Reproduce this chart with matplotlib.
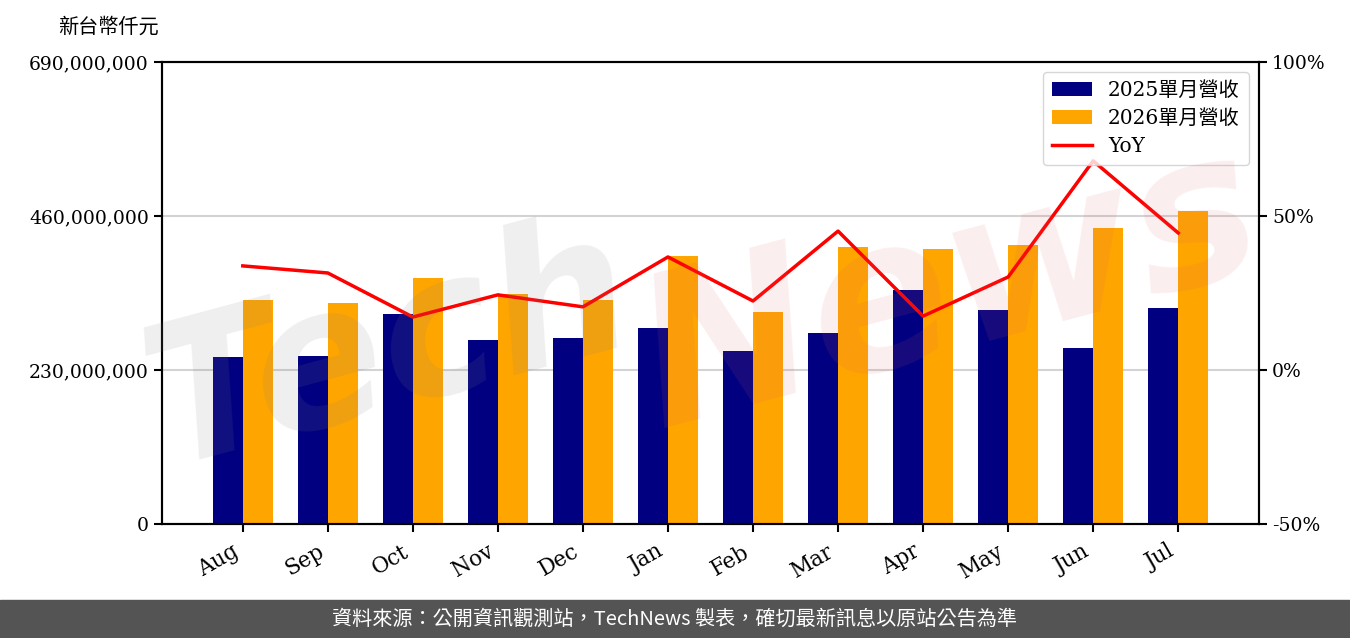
import matplotlib
matplotlib.use("Agg")
import matplotlib.pyplot as plt
from matplotlib.ticker import FuncFormatter, FixedLocator
from matplotlib.patches import Rectangle
import numpy as np

plt.rcParams['font.family'] = ['DejaVu Serif', 'Noto Sans CJK TC', 'DejaVu Sans']

months = ["Aug", "Sep", "Oct", "Nov", "Dec", "Jan", "Feb", "Mar", "Apr", "May", "Jun", "Jul"]
rev_2025 = [249e6, 251e6, 314e6, 275e6, 278e6, 293e6, 258e6, 285e6, 349e6, 320e6, 263e6, 323e6]
rev_2026 = [335e6, 330e6, 367e6, 344e6, 335e6, 400e6, 317e6, 414e6, 411e6, 417e6, 442e6, 467e6]
yoy = [33.8, 31.5, 17.2, 24.4, 20.5, 36.7, 22.4, 45.1, 17.5, 30.2, 67.9, 44.5]

left_ticks = [0, 230e6, 460e6, 690e6]
right_ticks = [-50, 0, 50, 100]

fig = plt.figure(figsize=(13.5, 6.38), dpi=100)
ax = fig.add_axes([162/1350, 1-524/638, (1259-162)/1350, (524-62)/638])
ax2 = ax.twinx()

x = np.arange(len(months))
w = 0.35
ax.bar(x - w/2, rev_2025, width=w, color='#000080', label='2025單月營收', zorder=2)
ax.bar(x + w/2, rev_2026, width=w, color='#FFA500', label='2026單月營收', zorder=2)
ax2.plot(x, yoy, color='red', linewidth=2.5, label='YoY', zorder=3)

ax.set_xlim(-0.95, len(months) - 1 + 0.95)
ax.set_ylim(left_ticks[0], left_ticks[-1])
ax2.set_ylim(right_ticks[0], right_ticks[-1])
ax.yaxis.set_major_locator(FixedLocator(left_ticks))
ax2.yaxis.set_major_locator(FixedLocator(right_ticks))
ax.yaxis.set_major_formatter(FuncFormatter(lambda v, p: f"{int(v):,}"))
ax2.yaxis.set_major_formatter(FuncFormatter(lambda v, p: f"{int(v)}%"))
ax.grid(axis='y', color='#d3d3d3', linewidth=1.5, zorder=0)
ax.set_axisbelow(True)

ax.set_xticks(x)
ax.set_xticklabels(months, rotation=30, ha='right')
for a in (ax, ax2):
    a.tick_params(labelsize=13.5, width=1.5, length=6)
    for s in a.spines.values():
        s.set_linewidth(1.5)
ax.tick_params(axis='x', labelsize=15.5, pad=6)

fig.text(58/1350, 1-27/638, '新台幣仟元', fontsize=14.5, va='center', ha='left',
         family=['Noto Sans CJK TC'])

h1, l1 = ax.get_legend_handles_labels()
h2, l2 = ax2.get_legend_handles_labels()
leg = ax2.legend(h1 + h2, l1 + l2, loc='upper right',
                 prop={'family': ['DejaVu Serif', 'Noto Sans CJK TC'], 'size': 14.5},
                 handlelength=2.0, labelspacing=0.45, borderpad=0.45)
leg.set_zorder(5)

# watermark
fig.text(390/1350, 1-350/638, 'Tech', fontsize=140, color='gray', alpha=0.13,
         rotation=15, ha='center', va='center', family='DejaVu Sans',
         fontweight='bold', fontstyle='oblique', zorder=10)
fig.text(950/1350, 1-290/638, 'News', fontsize=150, color='#e06060', alpha=0.11,
         rotation=15, ha='center', va='center', family='DejaVu Sans',
         fontweight='bold', fontstyle='oblique', zorder=10)

# footer
fig.patches.append(Rectangle((0, 0), 1, 38/638, transform=fig.transFigure,
                             color='#545454', zorder=0))
fig.text(0.5, 19/638, '資料來源：公開資訊觀測站，TechNews 製表，確切最新訊息以原站公告為準',
         color='white', fontsize=14.5, ha='center', va='center',
         family=['Noto Sans CJK TC'])

fig.savefig('out.png', dpi=100)
